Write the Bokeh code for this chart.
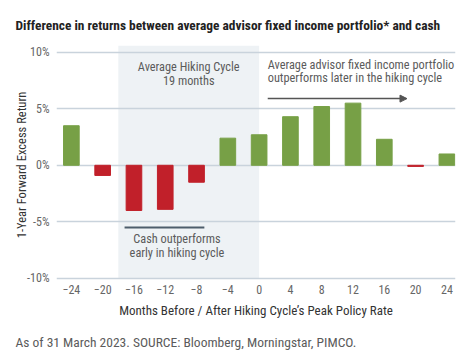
from bokeh.plotting import figure
from bokeh.models import (Label, Title, Arrow, NormalHead, BoxAnnotation, FixedTicker,
                          PrintfTickFormatter, ColumnDataSource)
from bokeh.embed import file_html
from bokeh.resources import INLINE

# ---- data ----
months = [-24, -20, -16, -12, -8, -4, 0, 4, 8, 12, 16, 20, 24]
excess_return = [3.5, -0.9, -4.0, -3.9, -1.5, 2.4, 2.7, 4.3, 5.2, 5.5, 2.3, -0.1, 1.0]
x_ticks = [-24, -20, -16, -12, -8, -4, 0, 4, 8, 12, 16, 20, 24]
y_ticks = [-10, -5, 0, 5, 10]
hiking_start, hiking_end = -18, 0

title_text = "Difference in returns between average advisor fixed income portfolio* and cash"
footer_text = "As of 31 March 2023. SOURCE: Bloomberg, Morningstar, PIMCO."
x_label = "Months Before / After Hiking Cycle\u2019s Peak Policy Rate"
y_label = "1-Year Forward Excess Return"

GREEN = "#77a046"
RED = "#c1202a"
GRID = "#c9d3dc"
TXT = "#5b5b5b"
FONT = "'Roboto Condensed', 'DejaVu Sans Condensed', Roboto"

colors = [GREEN if v >= 0 else RED for v in excess_return]
src = ColumnDataSource(dict(x=months, top=excess_return, color=colors))

p = figure(frame_width=399, frame_height=239, x_range=(-25.9, 25.1), y_range=(-10.55, 10.6),
           output_backend="svg", toolbar_location=None,
           min_border_left=56, min_border_right=1, min_border_top=45, min_border_bottom=4)
p.outline_line_color = None
p.background_fill_color = "white"

# title
p.title = Title(text=title_text, align="left", text_font=FONT, text_font_style="bold",
                text_font_size="13.4px", text_color="#222222", offset=-41, standoff=26)

# shaded hiking cycle
p.add_layout(BoxAnnotation(left=hiking_start, right=hiking_end, bottom=-10, top=None,
                           fill_color="#eef2f5", fill_alpha=1.0, line_color=None, level="image"))

p.vbar(x="x", top="top", bottom=0, width=2.0, color="color", source=src)

# grid
p.xgrid.grid_line_color = None
p.ygrid.ticker = FixedTicker(ticks=y_ticks)
p.ygrid.grid_line_color = GRID
p.ygrid.grid_line_width = 1.5

# axes
p.xaxis.ticker = FixedTicker(ticks=x_ticks)
p.yaxis.ticker = FixedTicker(ticks=y_ticks)
p.yaxis.formatter = PrintfTickFormatter(format="%d%%")
for ax in (p.xaxis[0], p.yaxis[0]):
    ax.axis_line_color = None
    ax.major_tick_line_color = None
    ax.minor_tick_line_color = None
    ax.major_tick_out = 0
    ax.major_label_text_font = FONT
    ax.major_label_text_font_size = "12px"
    ax.major_label_text_color = "#666666"
    ax.axis_label_text_font = FONT
    ax.axis_label_text_font_style = "normal"
    ax.axis_label_text_color = "#333333"
p.xaxis.major_label_standoff = 0
p.yaxis.major_label_standoff = 7
p.xaxis.axis_label = x_label
p.xaxis.axis_label_text_font_size = "13px"
p.xaxis.axis_label_standoff = 6
p.yaxis.axis_label = y_label
p.yaxis.axis_label_text_font_size = "12.5px"
p.yaxis.axis_label_standoff = -5

# footer
p.add_layout(Title(text=footer_text, align="left", text_font=FONT, text_font_style="normal",
                   text_font_size="13.5px", text_color=TXT, offset=-41, standoff=22), "below")

# annotations
def lab(x, y, t, align="center"):
    p.add_layout(Label(x=x, y=y, text=t, text_font=FONT, text_font_size="12.3px",
                       text_color=TXT, text_align=align, text_baseline="middle"))

lab(-9, 8.7, "Average Hiking Cycle")
lab(-9, 7.45, "19 months")
lab(1.1, 8.9, "Average advisor fixed income portfolio", "left")
lab(1.1, 7.7, "outperforms later in the hiking cycle", "left")
lab(-10.5, -6.5, "Cash outperforms")
lab(-10.5, -7.8, "early in hiking cycle")

p.add_layout(Arrow(x_start=1.1, y_start=5.9, x_end=18.9, y_end=5.9, line_color="#555555",
                   line_width=1.5, end=NormalHead(size=7, fill_color="#555555", line_color="#555555")))
p.segment(x0=[-17.2], y0=[-5.5], x1=[-7.0], y1=[-5.5], line_color="#4d5d6b", line_width=2)

open("out.html", "w").write(file_html(p, INLINE))
